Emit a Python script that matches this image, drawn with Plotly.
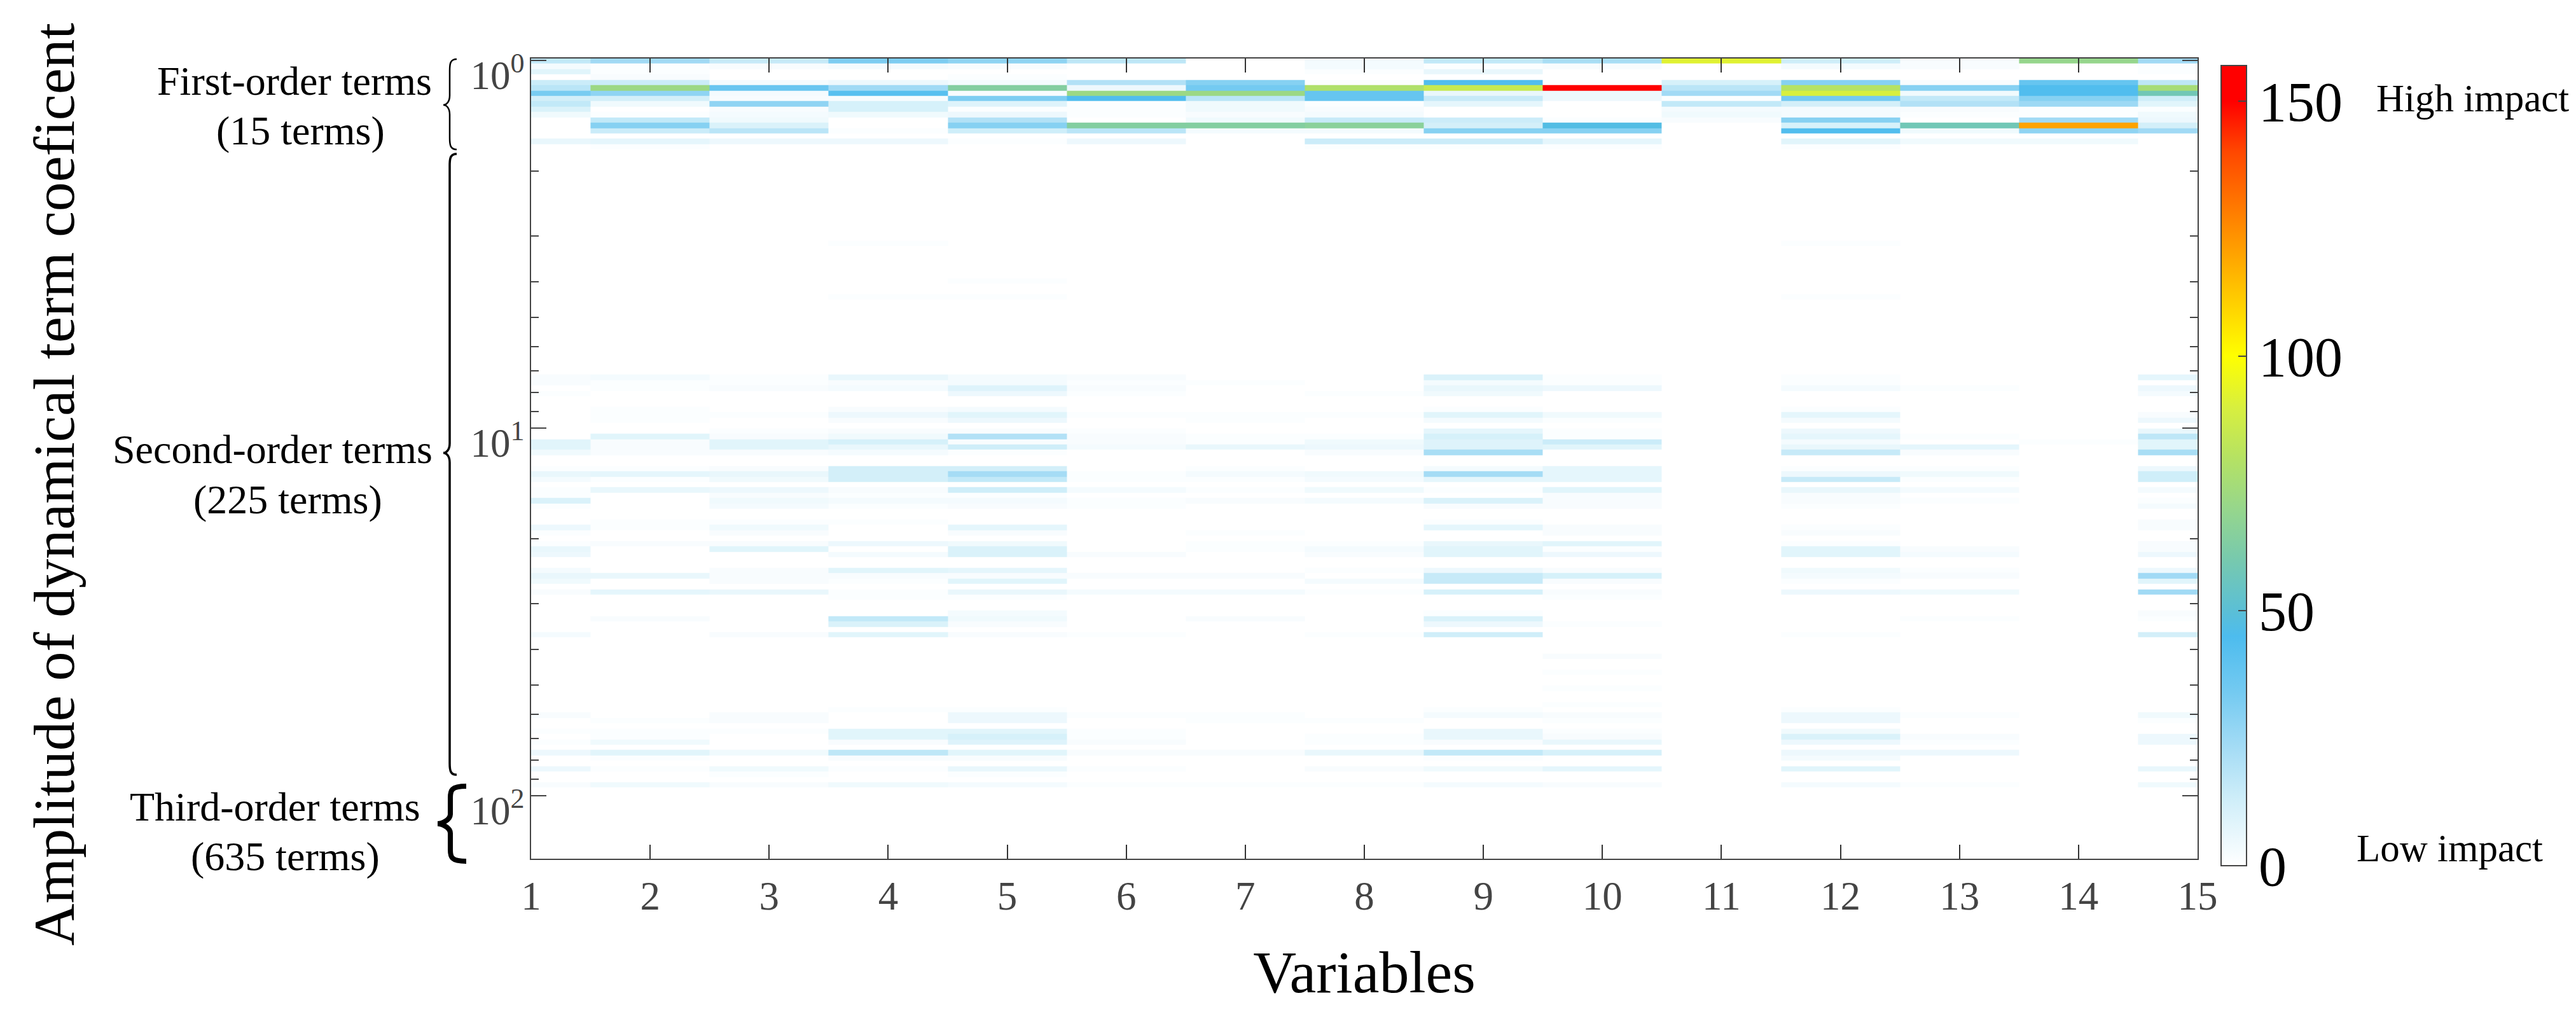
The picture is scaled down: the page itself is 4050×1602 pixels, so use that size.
import numpy as np
import plotly.graph_objects as go

W, H = 4050, 1602
L, R, T, B = 835, 3455, 92, 1350

variables = list(range(1, 16))
row_count = 150

# Impact values: one list of 15 values per row
first_rows = list(range(0, 17))
first_values = [
    [16, 24, 15, 32, 28, 17, 0, 3, 16, 22, 92, 13, 2, 70, 24],
    [3, 1, 2, 3, 2, 0, 0, 3, 1, 2, 0, 3, 2, 0, 1],
    [8, 1, 0, 0, 0, 0, 0, 1, 6, 0, 0, 0, 0, 0, 1],
    [0, 2, 0, 0, 1, 0, 0, 0, 0, 0, 0, 0, 0, 0, 0],
    [14, 14, 3, 5, 3, 20, 30, 1, 44, 0, 11, 30, 2, 38, 17],
    [18, 72, 37, 24, 64, 5, 34, 78, 85, 155, 18, 80, 30, 44, 75],
    [33, 28, 3, 42, 2, 72, 72, 38, 6, 5, 24, 90, 4, 44, 58],
    [12, 12, 2, 2, 32, 44, 18, 38, 15, 5, 1, 34, 16, 30, 13],
    [16, 4, 28, 11, 9, 1, 4, 1, 7, 0, 16, 12, 20, 25, 8],
    [10, 0, 2, 11, 1, 1, 4, 2, 0, 0, 3, 3, 2, 1, 1],
    [4, 1, 3, 4, 5, 1, 2, 3, 0, 0, 4, 3, 1, 1, 4],
    [0, 16, 4, 0, 20, 0, 4, 15, 14, 1, 2, 30, 0, 24, 5],
    [0, 30, 10, 0, 30, 64, 64, 66, 12, 47, 0, 11, 58, 120, 12],
    [0, 14, 18, 1, 13, 18, 3, 3, 30, 30, 0, 44, 4, 28, 24],
    [0, 0, 0, 0, 0, 0, 0, 0, 0, 0, 0, 0, 0, 0, 0],
    [6, 7, 5, 5, 1, 5, 0, 14, 14, 7, 0, 8, 4, 4, 0],
    [0, 1, 0, 0, 0, 0, 0, 1, 1, 1, 0, 1, 0, 0, 0],
]

second_rows = [34, 41, 44, 59, 60, 61, 62, 65, 66, 67, 69, 70, 71, 72, 73, 76, 77, 78, 80, 81, 82, 83,
               86, 87, 88, 90, 91, 92, 95, 96, 97, 99, 100, 103, 104, 105, 107]
second_values = [
    [0, 0, 0, 1, 0, 0, 0, 0, 0, 0, 0, 1, 0, 0, 0],
    [0, 0, 0, 0, 1, 0, 0, 0, 0, 0, 0, 0, 0, 0, 0],
    [0, 0, 0, 1, 1, 0, 0, 0, 0, 0, 0, 1, 0, 0, 0],
    [2, 3, 1, 6, 3, 2, 0, 0, 10, 1, 0, 1, 0, 0, 7],
    [2, 1, 1, 2, 3, 1, 1, 0, 3, 1, 0, 1, 0, 0, 0],
    [0, 1, 2, 3, 9, 2, 0, 0, 6, 5, 0, 3, 1, 0, 5],
    [1, 0, 0, 0, 5, 1, 0, 1, 4, 0, 0, 0, 0, 0, 3],
    [0, 1, 0, 2, 3, 0, 0, 0, 1, 0, 0, 1, 0, 0, 0],
    [0, 1, 1, 5, 8, 1, 1, 1, 8, 4, 0, 7, 0, 0, 2],
    [0, 1, 0, 2, 5, 0, 1, 0, 3, 1, 0, 3, 0, 0, 5],
    [0, 0, 1, 2, 2, 1, 0, 0, 7, 1, 0, 5, 0, 0, 6],
    [0, 8, 2, 4, 20, 2, 1, 1, 11, 1, 0, 7, 1, 0, 17],
    [8, 2, 8, 11, 2, 2, 1, 4, 9, 14, 0, 3, 0, 1, 8],
    [8, 2, 8, 6, 13, 3, 6, 5, 9, 8, 0, 6, 7, 0, 8],
    [4, 2, 2, 3, 1, 0, 0, 2, 22, 0, 0, 15, 2, 0, 22],
    [1, 1, 2, 12, 12, 0, 1, 0, 3, 7, 0, 1, 1, 0, 5],
    [6, 7, 6, 12, 23, 1, 3, 4, 23, 7, 0, 5, 4, 0, 13],
    [3, 1, 4, 12, 16, 1, 1, 3, 7, 7, 0, 15, 1, 0, 13],
    [1, 6, 5, 2, 13, 3, 1, 4, 1, 8, 0, 6, 3, 0, 3],
    [1, 0, 2, 1, 1, 0, 0, 0, 0, 2, 0, 2, 0, 0, 0],
    [10, 0, 4, 3, 3, 1, 2, 3, 10, 2, 0, 2, 1, 0, 1],
    [1, 0, 3, 1, 2, 1, 0, 0, 2, 2, 0, 1, 0, 0, 3],
    [0, 1, 1, 1, 0, 0, 0, 0, 1, 0, 0, 0, 0, 0, 2],
    [5, 1, 4, 0, 7, 0, 0, 0, 7, 2, 0, 1, 0, 0, 2],
    [1, 0, 2, 0, 2, 0, 1, 0, 0, 2, 0, 2, 0, 0, 0],
    [1, 2, 2, 5, 4, 0, 1, 1, 6, 8, 0, 1, 0, 0, 2],
    [6, 0, 8, 0, 10, 0, 1, 3, 8, 1, 0, 8, 2, 0, 2],
    [5, 0, 0, 3, 10, 2, 0, 2, 8, 5, 0, 8, 3, 0, 5],
    [3, 0, 2, 8, 7, 0, 0, 1, 5, 2, 0, 4, 1, 0, 5],
    [6, 6, 2, 2, 2, 2, 2, 0, 15, 11, 0, 3, 2, 0, 24],
    [4, 0, 2, 1, 8, 0, 0, 3, 15, 2, 0, 1, 0, 0, 8],
    [2, 7, 6, 1, 6, 3, 3, 1, 11, 2, 0, 5, 4, 0, 24],
    [0, 0, 0, 1, 1, 0, 0, 0, 0, 1, 0, 0, 0, 0, 0],
    [0, 0, 0, 0, 3, 0, 0, 0, 1, 0, 0, 0, 0, 0, 2],
    [0, 2, 0, 16, 4, 0, 2, 0, 10, 0, 0, 0, 1, 0, 1],
    [0, 0, 0, 10, 2, 0, 0, 0, 5, 1, 0, 0, 0, 0, 0],
    [3, 0, 2, 8, 2, 1, 0, 1, 13, 0, 0, 1, 0, 0, 12],
]

third_rows = [111, 114, 117, 120, 121, 122, 123, 125, 126, 127, 129, 130, 132, 133, 135]
third_values = [
    [0, 0, 0, 0, 0, 0, 0, 0, 0, 2, 0, 0, 0, 0, 0],
    [0, 0, 0, 0, 0, 0, 0, 0, 0, 1, 0, 0, 0, 0, 0],
    [0, 0, 0, 0, 0, 0, 0, 0, 0, 1, 0, 0, 0, 0, 0],
    [0, 0, 0, 0, 0, 0, 0, 0, 0, 1, 0, 0, 0, 0, 0],
    [0, 0, 0, 1, 1, 0, 0, 0, 1, 0, 0, 1, 0, 0, 0],
    [2, 0, 2, 0, 5, 1, 1, 0, 3, 2, 0, 5, 1, 0, 4],
    [0, 1, 2, 0, 5, 0, 1, 1, 0, 1, 0, 5, 0, 0, 1],
    [1, 1, 1, 8, 8, 1, 0, 0, 6, 1, 0, 4, 0, 0, 0],
    [0, 1, 0, 8, 11, 1, 0, 1, 6, 2, 0, 10, 2, 0, 5],
    [1, 4, 0, 2, 9, 2, 0, 1, 2, 6, 0, 5, 1, 0, 5],
    [5, 8, 4, 17, 8, 2, 2, 6, 16, 11, 0, 5, 5, 0, 0],
    [0, 1, 0, 2, 2, 0, 0, 0, 1, 0, 0, 3, 0, 0, 0],
    [5, 1, 4, 1, 6, 1, 0, 2, 4, 7, 0, 8, 0, 0, 6],
    [0, 0, 1, 0, 1, 0, 0, 0, 0, 0, 0, 0, 0, 0, 0],
    [2, 4, 2, 4, 3, 1, 1, 1, 3, 2, 0, 3, 1, 0, 4],
]

colour_stops = [0, 13, 23, 34, 45, 50, 60, 70, 80, 90, 100, 112, 125, 140, 150, 157]
colour_hex = ["#ffffff", "#cfeef9", "#a5dcf5", "#74caf1", "#4dbcee", "#5bbfd6", "#77c9ae", "#96d68c",
              "#b5e263", "#d8ef3e", "#ffff00", "#ffc800", "#ff8c00", "#ff4800", "#ff0000", "#ff0000"]

decades = [1, 10, 100]
decade_text = ['<span style="font-size:63px">10<sup>%d</sup></span>' % e for e in (0, 1, 2)]
minor_vals = [m * d for d in decades for m in range(2, 10)]

z = np.zeros((row_count, 15))
for rows, vals in ((first_rows, first_values), (second_rows, second_values), (third_rows, third_values)):
    for r, v in zip(rows, vals):
        z[r] = v

row_edges = 10 ** (-0.0057 + 0.014585 * np.arange(row_count + 1))

FONT = "Liberation Serif"
px = lambda x: (x - L) / (R - L)
py = lambda y: (B - y) / (B - T)

fig = go.Figure(go.Heatmap(
    x=variables, y=row_edges, z=z, zmin=0, zmax=157,
    colorscale=[[s / 157, c] for s, c in zip(colour_stops, colour_hex)],
    colorbar=dict(
        x=px(3492), xanchor="left", y=py(732), yanchor="middle",
        lenmode="pixels", len=1258, thickness=40, xpad=0, ypad=0,
        outlinecolor="#444444", outlinewidth=2, borderwidth=0,
        tickmode="array", tickvals=[0, 50, 100, 150], ticktext=["0", "50", "100", "150"],
        ticks="inside", ticklen=14, tickcolor="#444444", tickwidth=2,
        tickprefix="\u00a0\u00a0\u00a0",
        tickfont=dict(family=FONT, size=88, color="#000000"),
    ),
))

def brace(x_tip, x_spine, x_end, y0, ym, y1, width):
    pts = [
        ("M", (x_end, y0)),
        ("C", (x_spine + 1, y0), (x_spine, y0 + 7), (x_spine, y0 + 18)),
        ("L", (x_spine, ym - 15)),
        ("C", (x_spine, ym - 5), (x_tip + 5, ym), (x_tip, ym)),
        ("C", (x_tip + 5, ym), (x_spine, ym + 5), (x_spine, ym + 15)),
        ("L", (x_spine, y1 - 18)),
        ("C", (x_spine, y1 - 7), (x_spine + 1, y1), (x_end, y1)),
    ]
    path = " ".join(p[0] + " ".join(f"{px(a):.5f},{py(b):.5f}" for a, b in p[1:]) for p in pts)
    return dict(type="path", xref="paper", yref="paper", path=path,
                line=dict(color="#000000", width=width), fillcolor="rgba(0,0,0,0)")

shapes = [
    brace(697, 707, 718, 93, 165, 235, 2.5),
    brace(697, 707, 718, 242, 712, 1218, 3.5),
    brace(688, 708, 733, 1236, 1295, 1354, 8),
]

def note(text, x, y, size, anchor="center", angle=0):
    return dict(text=text, x=px(x), y=py(y), xref="paper", yref="paper", showarrow=False,
                xanchor=anchor, yanchor="middle", align="center", textangle=angle,
                font=dict(family=FONT, size=size, color="#000000"))

annotations = [
    note("First-order terms", 463, 127, 64),
    note("(15 terms)", 472, 205, 64),
    note("Second-order terms", 428, 706, 64),
    note("(225 terms)", 452, 786, 64),
    note("Third-order terms", 433, 1268, 64),
    note("(635 terms)", 448, 1346, 64),
    note("High impact", 3734, 154, 61, "left"),
    note("Low impact", 3703, 1333, 61, "left"),
    note("Amplitude of dynamical term coeficent", 85, 762, 92, "center", -90),
]

fig.update_layout(
    width=W, height=H, margin=dict(l=L, r=W - R, t=T, b=H - B, pad=0),
    paper_bgcolor="#ffffff", plot_bgcolor="#ffffff",
    shapes=shapes, annotations=annotations,
    xaxis=dict(
        range=[1, 15], tickmode="array", tickvals=variables, ticks="inside", ticklen=22, tickwidth=2,
        tickcolor="#333333", showline=True, linecolor="#444444", linewidth=2, mirror="ticks",
        showgrid=False, zeroline=False, ticklabelstandoff=2,
        tickfont=dict(family=FONT, size=63, color="#444444"),
        title=dict(text="Variables", standoff=52, font=dict(family=FONT, size=94, color="#000000")),
    ),
    yaxis=dict(
        type="log", range=[2.1713, -0.0052], tickmode="array", tickvals=decades, ticktext=decade_text,
        ticklabelposition="outside bottom",
        ticks="inside", ticklen=24, tickwidth=2, tickcolor="#444444",
        minor=dict(tickmode="array", tickvals=minor_vals, ticks="inside", ticklen=12, tickwidth=2,
                   tickcolor="#444444", showgrid=False),
        showline=True, linecolor="#444444", linewidth=2, mirror="ticks",
        showgrid=False, zeroline=False,
        tickfont=dict(family=FONT, size=42, color="#444444"),
    ),
)

fig.write_html("out.html", config={"displayModeBar": False}, post_script="document.body.style.margin='0';")
